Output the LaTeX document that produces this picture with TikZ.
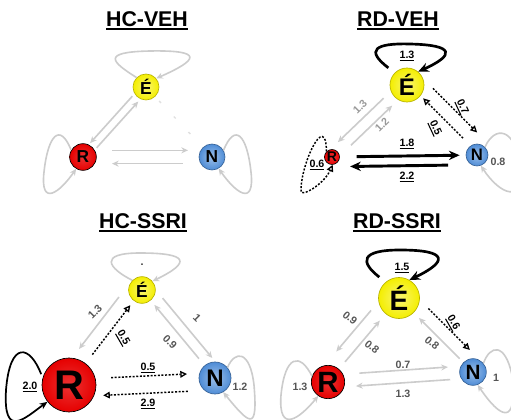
\documentclass[tikz,border=0pt]{standalone}
\usepackage{fontspec}
\setmainfont{Liberation Sans}
\usetikzlibrary{arrows.meta,calc}
\definecolor{lg}{HTML}{CCCCCC}
\definecolor{ylw}{HTML}{F4EE00}
\definecolor{rd}{HTML}{E60000}
\definecolor{bl}{HTML}{4E8CD6}
\definecolor{lblg}{HTML}{555555}
\newcommand\tul[1]{\setbox0\hbox{#1}\rlap{\rule[-3pt]{\wd0}{1.6pt}}\box0}
\newcommand\lul[1]{\setbox0\hbox{#1}\rlap{\rule[-1.8pt]{\wd0}{0.8pt}}\box0}
\begin{document}
\begin{tikzpicture}[x=0.75pt,y=-0.75pt,
  ttl/.style={font=\bfseries\fontsize{16}{18}\selectfont,inner sep=2pt},
  nd/.style={circle,inner sep=0pt,line width=0.5pt},
  enode/.style={nd,draw=ylw!75!black,shading=radial,inner color=ylw!55!white,outer color=ylw},
  rnode/.style={nd,draw=black,shading=radial,inner color=rd!80!white,outer color=rd},
  nnode/.style={nd,draw=bl!70!black,shading=radial,inner color=bl!55!white,outer color=bl},
  gl/.style={draw=lg,line width=1.2pt,-{Stealth[length=5pt,width=4.5pt]}},
  bk/.style={draw=black,line width=2.2pt,-{Stealth[length=8pt,width=7pt]}},
  bkt/.style={draw=black,line width=1.3pt,-{Stealth[length=6pt,width=5pt]}},
  dt/.style={draw=black,line width=1.1pt,dash pattern=on 1.5pt off 1.2pt,-{Triangle[open,length=5pt,width=5pt,line width=1pt]}},
  lb/.style={font=\bfseries\fontsize{8}{9}\selectfont,inner sep=1pt},
  glb/.style={lb,text=lblg},
  plb/.style={lb,text=black!40},
]
\fill[white] (0,0) rectangle (511,420);
\clip (0,0) rectangle (511,420);

% ---------------- Panel 1: HC-VEH ----------------
\node[ttl] (T1) at (147,21) {\tul{HC-VEH}};
\node[enode,minimum size=19.5pt,font=\bfseries\fontsize{13}{13}\selectfont] (E1) at (146,87) {É};
\node[rnode,minimum size=20pt,font=\bfseries\fontsize{13}{13}\selectfont] (R1) at (83,157) {R};
\node[nnode,minimum size=19.5pt,font=\bfseries\fontsize{13}{13}\selectfont] (N1) at (212,157) {N};
\draw[gl] (E1.135) .. controls (112,62) and (100,52) .. (150,51) .. controls (205,50) and (198,60) .. (E1.40);
\draw[gl] (R1.150) .. controls (60,122) and (48,135) .. (44,172) .. controls (40,208) and (60,192) .. (R1.240);
\draw[gl] (N1.30) .. controls (235,122) and (247,135) .. (251,172) .. controls (255,208) and (235,192) .. (N1.300);
\draw[gl] ($(E1)!.17!(R1)!3pt!-90:(R1)$) -- ($(E1)!.84!(R1)!3pt!-90:(R1)$);
\draw[gl] ($(R1)!.17!(E1)!3pt!-90:(E1)$) -- ($(R1)!.83!(E1)!3pt!-90:(E1)$);
\draw[gl] ($(R1)!.225!(N1)!5pt!90:(N1)$) -- ($(R1)!.814!(N1)!5pt!90:(N1)$);
\draw[gl] ($(N1)!.225!(R1)!5pt!90:(R1)$) -- ($(N1)!.775!(R1)!5pt!90:(R1)$);
\draw[draw=lg!60,line width=1pt,dash pattern=on 2pt off 14pt] ($(E1)!.2!(N1)$) -- ($(E1)!.85!(N1)$);

% ---------------- Panel 2: RD-VEH ----------------
\node[ttl] (T2) at (398,21) {\tul{RD-VEH}};
\node[enode,minimum size=25.5pt,font=\bfseries\fontsize{18}{18}\selectfont] (E2) at (407,85) {É};
\node[rnode,minimum size=11.25pt,font=\bfseries\fontsize{10.5}{10.5}\selectfont] (R2) at (332,157) {R};
\node[nnode,minimum size=16.5pt,font=\bfseries\fontsize{12.5}{12.5}\selectfont] (N2) at (477,155) {N};
\draw[bk,line width=2pt,shorten <=6pt] (E2.135) .. controls (365,50) and (375,43) .. (410,44) .. controls (455,45) and (455,55) .. (E2.50);
\node[lb] (L21) at (407,56) {\lul{1.3}};
\draw[gl] ($(E2)!.25!(R2)!5pt!-90:(R2)$) -- ($(E2)!.86!(R2)!5pt!-90:(R2)$);
\draw[gl] ($(R2)!.21!(E2)!3.5pt!-90:(E2)$) -- ($(R2)!.76!(E2)!3.5pt!-90:(E2)$);
\node[plb,rotate=45] (L22) at (360,107) {1.3};
\node[plb,rotate=45] (L23) at (382,125) {1.2};
\draw[bk] ($(R2)!.17!(N2)$) -- ($(R2)!.88!(N2)$);
\draw[bk] ($(N2)!.2!(R2)!7.3pt!90:(R2)$) -- ($(N2)!.876!(R2)!7.3pt!90:(R2)$);
\node[lb] (L24) at (407,144) {\lul{1.8}};
\node[lb] (L25) at (407,177) {\lul{2.2}};
\draw[dt] ($(E2)!.21!(N2)!12pt!90:(N2)$) -- ($(E2)!.84!(N2)!12pt!90:(N2)$);
\draw[dt] ($(N2)!.22!(E2)!1.5pt!-90:(E2)$) -- ($(N2)!.79!(E2)!1.5pt!-90:(E2)$);
\node[lb,rotate=-65] (L26) at (462,107) {\lul{0.7}};
\node[lb,rotate=-65] (L27) at (435,128) {\lul{0.5}};
\draw[dt] (R2.135) .. controls (326,110) and (300,165) .. (301,192) .. controls (305,196) and (325,182) .. (R2.275);
\node[lb] (L28) at (317,165) {\lul{0.6}};
\draw[gl] (N2.45) .. controls (495,125) and (515,128) .. (520,165) .. controls (525,205) and (500,195) .. (N2.290);
\node[glb] (L29) at (498,162) {0.8};

% ---------------- Panel 3: HC-SSRI ----------------
\node[ttl] (T3) at (143,223) {\tul{HC-SSRI}};
\node[enode,minimum size=20pt,font=\bfseries\fontsize{13}{13}\selectfont] (E3) at (142,290) {É};
\node[rnode,minimum size=40.5pt,font=\bfseries\fontsize{31}{31}\selectfont] (R3) at (69,385) {R};
\node[nnode,minimum size=24pt,font=\bfseries\fontsize{18}{18}\selectfont] (N3) at (215,378) {N};
\draw[gl] (E3.135) .. controls (108,268) and (98,253) .. (140,253) .. controls (188,253) and (192,262) .. (E3.40);
\node[lb,text=black!80] (L31) at (142,265) {.};
\draw[gl] ($(E3)!.164!(R3)!10.5pt!-90:(R3)$) -- ($(E3)!.71!(R3)!10.5pt!-90:(R3)$);
\draw[dt] ($(R3)!.32!(E3)$) -- ($(R3)!.84!(E3)$);
\node[glb,rotate=45] (L32) at (95,312) {1.3};
\node[lb,rotate=-60] (L33) at (123,338) {\lul{0.5}};
\draw[gl] ($(E3)!.17!(N3)!8pt!90:(N3)$) -- ($(E3)!.85!(N3)!8pt!90:(N3)$);
\draw[gl] ($(N3)!.22!(E3)$) -- ($(N3)!.83!(E3)$);
\node[glb,rotate=-45] (L34) at (197,318) {1};
\node[glb,rotate=-45] (L35) at (170,342) {0.9};
\draw[dt] ($(R3)!.29!(N3)!4pt!90:(N3)$) -- ($(R3)!.81!(N3)!4pt!90:(N3)$);
\draw[dt] ($(N3)!.19!(R3)!9pt!90:(R3)$) -- ($(N3)!.77!(R3)!9pt!90:(R3)$);
\node[lb] (L36) at (148,368) {\lul{0.5}};
\node[lb] (L37) at (148,404) {\lul{2.9}};
\draw[bkt,shorten <=3pt] (R3.165) .. controls (30,345) and (10,340) .. (6,390) .. controls (3,440) and (25,418) .. (R3.218);
\node[lb] (L38) at (30,387) {\lul{2.0}};
\draw[gl] (N3.40) .. controls (235,350) and (250,350) .. (254,385) .. controls (258,432) and (250,425) .. (N3.300);
\node[glb] (L39) at (240,387) {1.2};

% ---------------- Panel 4: RD-SSRI ----------------
\node[ttl] (T4) at (397,223) {\tul{RD-SSRI}};
\node[enode,minimum size=30.75pt,font=\bfseries\fontsize{21}{21}\selectfont] (E4) at (399,298) {É};
\node[rnode,minimum size=25pt,font=\bfseries\fontsize{22}{22}\selectfont] (R4) at (328,382) {R};
\node[nnode,minimum size=20pt,font=\bfseries\fontsize{15.5}{16}\selectfont] (N4) at (473,372) {N};
\draw[bk,line width=2pt,shorten <=6pt] (E4.130) .. controls (360,262) and (360,250) .. (400,250) .. controls (450,250) and (447,262) .. (E4.60);
\node[lb] (L41) at (402,268) {\lul{1.5}};
\draw[gl] ($(E4)!.25!(R4)!10pt!-90:(R4)$) -- ($(E4)!.74!(R4)!10pt!-90:(R4)$);
\draw[gl] ($(R4)!.24!(E4)$) -- ($(R4)!.73!(E4)$);
\node[glb,rotate=-40] (L42) at (350,318) {0.9};
\node[glb,rotate=-40] (L43) at (372,347) {0.8};
\draw[dt] ($(E4)!.27!(N4)!10pt!90:(N4)$) -- ($(E4)!.83!(N4)!10pt!90:(N4)$);
\draw[gl] ($(N4)!.18!(E4)$) -- ($(N4)!.73!(E4)$);
\node[lb,rotate=-60] (L44) at (453,323) {\lul{0.6}};
\node[glb,rotate=-40] (L45) at (432,343) {0.8};
\draw[gl] ($(R4)!.22!(N4)!5pt!90:(N4)$) -- ($(R4)!.83!(N4)!5pt!90:(N4)$);
\draw[gl] ($(N4)!.16!(R4)!4.5pt!90:(R4)$) -- ($(N4)!.81!(R4)!4.5pt!90:(R4)$);
\node[glb] (L46) at (403,365) {0.7};
\node[glb] (L47) at (403,394) {1.3};
\draw[gl] (R4.160) .. controls (300,352) and (285,355) .. (281,395) .. controls (278,435) and (300,418) .. (R4.235);
\node[glb] (L48) at (300,387) {1.3};
\draw[gl] (N4.40) .. controls (490,345) and (505,342) .. (512,375) .. controls (518,428) and (500,418) .. (N4.290);
\node[glb] (L49) at (496,378) {1};
\end{tikzpicture}
\end{document}
